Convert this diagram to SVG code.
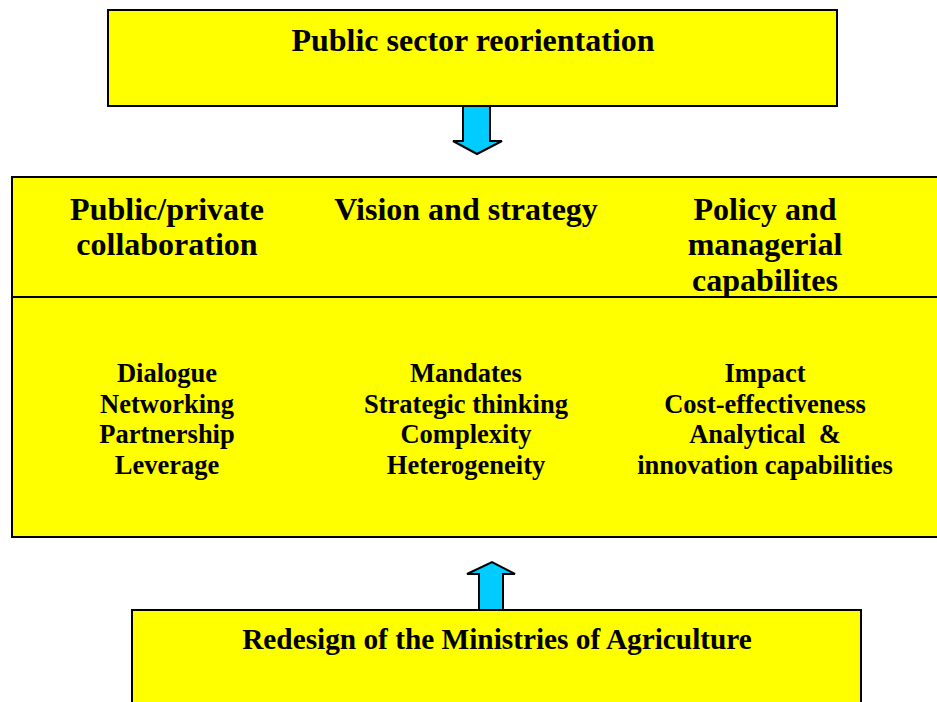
<svg xmlns="http://www.w3.org/2000/svg" width="937" height="702" viewBox="0 0 937 702">
<style>
.box{fill:#ffff00;stroke:#000;stroke-width:2}
.arrow{fill:#00ccff;stroke:#000;stroke-width:2;stroke-linejoin:miter}
.h{font-family:"Liberation Serif",serif;font-weight:bold;font-size:32px;fill:#000;text-anchor:middle}
.b{font-family:"Liberation Serif",serif;font-weight:bold;font-size:26.5px;fill:#000;text-anchor:middle}
.r{font-family:"Liberation Serif",serif;font-weight:bold;font-size:29.3px;fill:#000;text-anchor:middle}
</style>
<rect width="937" height="702" fill="#fff"/>
<g id="top">
<rect class="box" x="108" y="10" width="729" height="96"/>
<text class="h" x="473" y="51">Public sector reorientation</text>
</g>
<g id="middle">
<rect class="box" x="12" y="177" width="930" height="360"/>
<line x1="12" y1="297" x2="937" y2="297" stroke="#000" stroke-width="2"/>
<text class="h" x="167" y="220">Public/private</text>
<text class="h" x="167" y="255">collaboration</text>
<text class="h" x="466" y="220">Vision and strategy</text>
<text class="h" x="765" y="220">Policy and</text>
<text class="h" x="765" y="255">managerial</text>
<text class="h" x="765" y="291">capabilites</text>
<text class="b" x="167" y="382">Dialogue</text>
<text class="b" x="167" y="413">Networking</text>
<text class="b" x="167" y="443">Partnership</text>
<text class="b" x="167" y="474">Leverage</text>
<text class="b" x="466" y="382">Mandates</text>
<text class="b" x="466" y="413">Strategic thinking</text>
<text class="b" x="466" y="443">Complexity</text>
<text class="b" x="466" y="474">Heterogeneity</text>
<text class="b" x="765" y="382">Impact</text>
<text class="b" x="765" y="413">Cost-effectiveness</text>
<text class="b" x="765" y="443">Analytical &#160;&amp;</text>
<text class="b" x="765" y="474">innovation capabilities</text>
</g>
<g id="bottom">
<rect class="box" x="132" y="610" width="729" height="100"/>
<text class="r" x="497" y="649">Redesign of the Ministries of Agriculture</text>
</g>
<g id="connectors">
<path class="arrow" d="M463,106 L490,106 L490,141 L502,141 L477,154 L453,141 L463,141 Z"/>
<path class="arrow" d="M479,610 L503,610 L503,574 L515,574 L492,562 L467,574 L479,574 Z"/>
</g>
</svg>
